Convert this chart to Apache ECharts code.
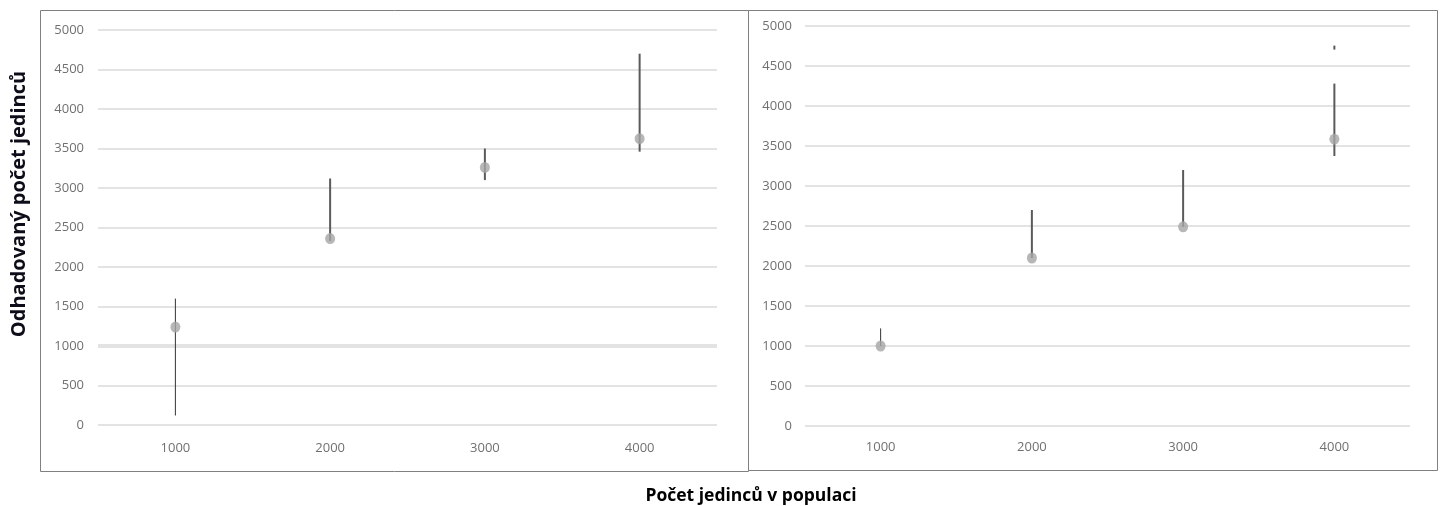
<!DOCTYPE html>
<html>
<head>
<meta charset="utf-8">
<script src="https://cdn.jsdelivr.net/npm/echarts@6/dist/echarts.min.js"></script>
<style>
html,body{margin:0;padding:0;background:#fff;}
#chart{width:1440px;height:506px;}
</style>
</head>
<body>
<div id="chart"></div>
<script>
// ---- data ----
var categories = ['1000', '2000', '3000', '4000'];
var yTicks = [0, 500, 1000, 1500, 2000, 2500, 3000, 3500, 4000, 4500, 5000];

var leftEstimate = [1240, 2360, 3260, 3625];
var leftLow      = [120, 2330, 3100, 3460];
var leftHigh     = [1600, 3120, 3500, 4700];
var leftRefLine  = 1000;

var rightEstimate = [1000, 2100, 2490, 3585];
var rightLow      = [1000, 2100, 2490, 3375];
var rightHigh     = [1220, 2700, 3200, 4280];
var rightStray    = [null, null, null, 4730];

var yTitle = 'Odhadovaný počet jedinců';
var xTitle = 'Počet jedinců v populaci';

// ---- chart ----
var chart = echarts.init(document.getElementById('chart'), null, {renderer: 'canvas'});
var labelColor = '#707070';
var gridColor = '#dadada';
var fontFam = '"Open Sans", "Noto Sans", sans-serif';

function errData(low, high) {
  return categories.map(function (c, i) { return [i, low[i], high[i]]; });
}
function errRender(params, api) {
  var i = api.value(0);
  var p1 = api.coord([i, api.value(1)]);
  var p2 = api.coord([i, api.value(2)]);
  return {
    type: 'line',
    shape: {x1: p1[0], y1: p1[1], x2: p2[0], y2: p2[1]},
    style: {stroke: i === 0 ? '#333333' : '#5a5a5a', lineWidth: i === 0 ? 1 : 2}
  };
}
function strayData(arr) {
  var out = [];
  arr.forEach(function (v, i) { if (v !== null) out.push([i, v]); });
  return out;
}
function strayRender(params, api) {
  var p = api.coord([api.value(0), api.value(1)]);
  return {
    type: 'line',
    shape: {x1: p[0], y1: p[1] - 2, x2: p[0], y2: p[1] + 2},
    style: {stroke: '#5a5a5a', lineWidth: 2}
  };
}

function yAxis(gi, margin) {
  return {
    type: 'value', gridIndex: gi, min: yTicks[0], max: yTicks[yTicks.length - 1], interval: 500,
    axisLine: {show: false}, axisTick: {show: false},
    axisLabel: {color: labelColor, fontSize: 13, fontFamily: fontFam, margin: margin,
      formatter: function (v) { return String(v); }},
    splitLine: {lineStyle: {color: gridColor, width: 1.5}}
  };
}
function xAxis(gi, margin) {
  return {
    type: 'category', gridIndex: gi, data: categories, boundaryGap: true,
    axisLine: {show: false}, axisTick: {show: false},
    axisLabel: {color: labelColor, fontSize: 13, fontFamily: fontFam, margin: margin},
    splitLine: {show: false}
  };
}

var option = {
  backgroundColor: '#ffffff',
  animation: false,
  grid: [
    {left: 98, top: 30, width: 619, height: 395},
    {left: 805, top: 26, width: 605, height: 400}
  ],
  xAxis: [xAxis(0, 17), xAxis(1, 15)],
  yAxis: [yAxis(0, 14), yAxis(1, 13)],
  graphic: [
    {type: 'rect', shape: {x: 40.5, y: 10.5, width: 708, height: 461}, style: {fill: 'none', stroke: '#808080', lineWidth: 1}, z: 100},
    {type: 'rect', shape: {x: 748.5, y: 10.5, width: 689, height: 460}, style: {fill: 'none', stroke: '#808080', lineWidth: 1}, z: 100},
    {type: 'text', x: 751, y: 496, style: {text: xTitle, font: 'bold 17.5px ' + fontFam, fill: '#000000', textAlign: 'center', textVerticalAlign: 'middle'}},
    {type: 'text', x: 19, y: 204, rotation: Math.PI / 2, style: {text: yTitle, font: 'bold 20px ' + fontFam, fill: '#0d0d1a', textAlign: 'center', textVerticalAlign: 'middle'}}
  ],
  series: [
    {
      type: 'scatter', xAxisIndex: 0, yAxisIndex: 0, z: 1, silent: true,
      symbolSize: 0, data: [],
      markLine: {
        z: 1, silent: true, symbol: 'none', label: {show: false},
        lineStyle: {color: '#e3e3e3', width: 4, type: 'solid'},
        data: [{yAxis: leftRefLine}]
      }
    },
    {
      type: 'custom', xAxisIndex: 0, yAxisIndex: 0, z: 2,
      renderItem: errRender, data: errData(leftLow, leftHigh)
    },
    {
      type: 'scatter', xAxisIndex: 0, yAxisIndex: 0, z: 3,
      symbol: 'circle', symbolSize: [10, 11],
      itemStyle: {color: '#a5a5a5'},
      data: leftEstimate.map(function (v, i) { return [i, v]; })
    },
    {
      type: 'custom', xAxisIndex: 1, yAxisIndex: 1, z: 2,
      renderItem: errRender, data: errData(rightLow, rightHigh)
    },
    {
      type: 'custom', xAxisIndex: 1, yAxisIndex: 1, z: 2,
      renderItem: strayRender, data: strayData(rightStray)
    },
    {
      type: 'scatter', xAxisIndex: 1, yAxisIndex: 1, z: 3,
      symbol: 'circle', symbolSize: [10, 11],
      itemStyle: {color: '#a5a5a5'},
      data: rightEstimate.map(function (v, i) { return [i, v]; })
    }
  ]
};
chart.setOption(option);
</script>
</body>
</html>
